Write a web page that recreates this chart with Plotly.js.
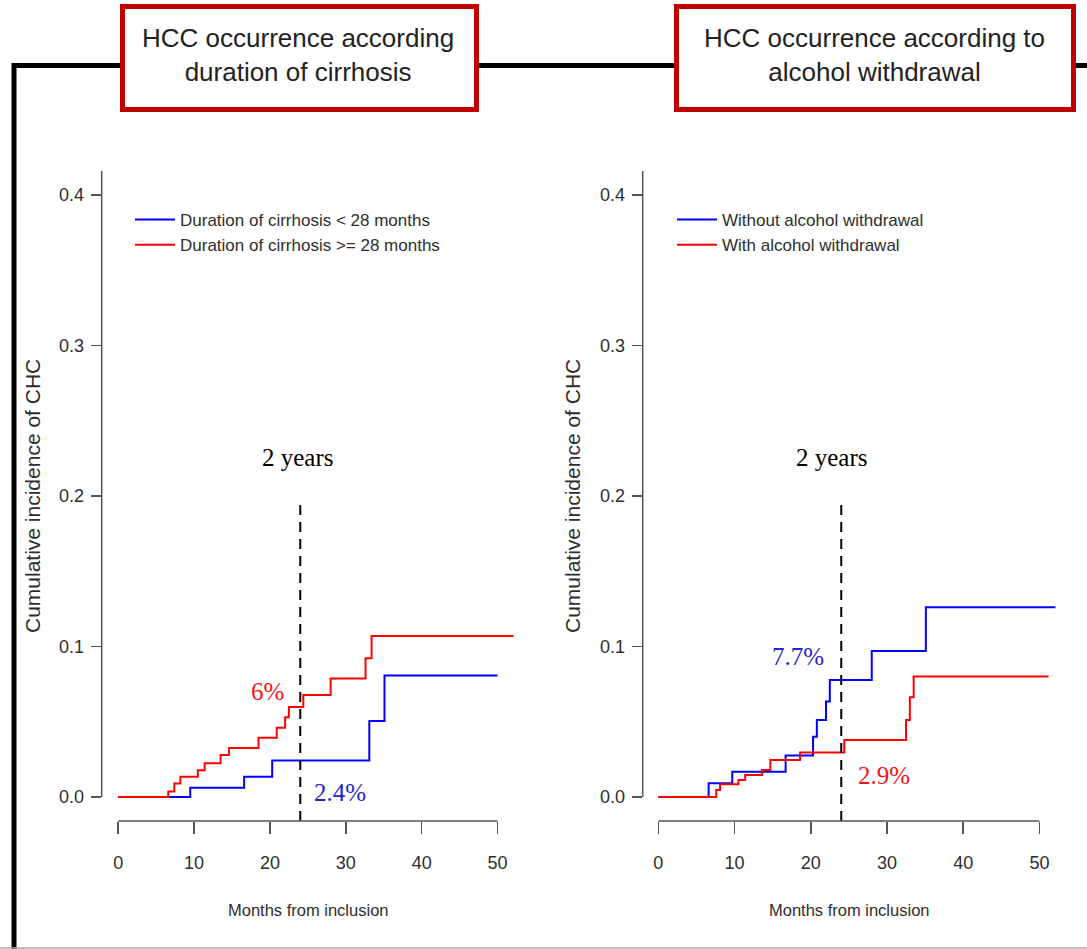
<!DOCTYPE html>
<html>
<head>
<meta charset="utf-8">
<script src="https://cdn.plot.ly/plotly-3.0.1.min.js"></script>
<style>html,body{margin:0;padding:0;background:#fff;}#chart{width:1087px;height:949px;}</style>
</head>
<body>
<div id="chart"></div>
<script>
// ---------- data ----------
// Left panel: duration of cirrhosis
var durShortName = 'Duration of cirrhosis < 28 months';
var durShortTimes = [0, 9.5, 16.6, 20.3, 33.1, 35.1, 50.0];
var durShortCI    = [0, 0.0062, 0.0135, 0.0243, 0.0505, 0.0808, 0.0808];
var durLongName = 'Duration of cirrhosis >= 28 months';
var durLongTimes = [0, 6.6, 7.4, 8.2, 10.5, 11.4, 13.5, 14.6, 18.5, 20.9, 22.0, 22.5, 24.4, 28.0, 32.6, 33.4, 52.1];
var durLongCI    = [0, 0.0036, 0.0089, 0.0135, 0.0178, 0.0225, 0.0279, 0.0326, 0.0393, 0.046, 0.053, 0.0598, 0.0678, 0.0787, 0.0922, 0.107, 0.107];
// Right panel: alcohol withdrawal
var noWdName = 'Without alcohol withdrawal';
var noWdTimes = [0, 6.6, 9.7, 16.7, 20.3, 20.8, 22.0, 22.5, 28.0, 35.1, 52.1];
var noWdCI    = [0, 0.0091, 0.0168, 0.0275, 0.0401, 0.0512, 0.0634, 0.0778, 0.0971, 0.1261, 0.1261];
var wdName = 'With alcohol withdrawal';
var wdTimes = [0, 7.6, 8.1, 10.5, 11.4, 13.6, 14.7, 18.6, 24.4, 32.5, 33.0, 33.5, 51.2];
var wdCI    = [0, 0.0047, 0.0084, 0.0113, 0.0146, 0.018, 0.0246, 0.0295, 0.0379, 0.0512, 0.0663, 0.080, 0.080];

var cutoffMonths = [24, 24];
var cutoffSpan = [-0.016, 0.194];
var cutoffLabel = '2 years';
var leftPctLabels = ['6%', '2.4%'];
var rightPctLabels = ['7.7%', '2.9%'];

var panelTitles = ['HCC occurrence according<br>duration of cirrhosis', 'HCC occurrence according to<br>alcohol withdrawal'];
var xTitle = 'Months from inclusion';
var yTitle = 'Cumulative incidence of CHC';
var xTicks = [0, 10, 20, 30, 40, 50];
var yTicks = [0, 0.1, 0.2, 0.3, 0.4];
var yTickText = ['0.0', '0.1', '0.2', '0.3', '0.4'];

// ---------- layout helpers ----------
var W = 1087, H = 949;
function xp(px) { return px / W; }
function yp(py) { return 1 - py / H; }

var SANS = 'Liberation Sans, Arial, sans-serif';
var SERIF = 'Liberation Serif, Times New Roman, serif';
var BLUE = '#0000ff', RED = '#ff0000';
var AX = '#555555', TXT = '#2e2e2e';
var yMin = -0.01595, yMax = 0.416;

function stepTrace(x, y, name, color, xa, ya, lg) {
  return {x: x, y: y, name: name, type: 'scatter', mode: 'lines',
    line: {shape: 'hv', color: color, width: 2}, xaxis: xa, yaxis: ya, legend: lg,
    hoverinfo: 'skip'};
}
function cutTrace(xa, ya) {
  return {x: cutoffMonths, y: cutoffSpan, type: 'scatter', mode: 'lines', showlegend: false,
    line: {color: '#000', width: 2, dash: '10px,7px'}, xaxis: xa, yaxis: ya, hoverinfo: 'skip'};
}

var data = [
  stepTrace(durShortTimes, durShortCI, durShortName, BLUE, 'x', 'y', 'legend'),
  stepTrace(durLongTimes, durLongCI, durLongName, RED, 'x', 'y', 'legend'),
  cutTrace('x', 'y'),
  stepTrace(noWdTimes, noWdCI, noWdName, BLUE, 'x2', 'y2', 'legend2'),
  stepTrace(wdTimes, wdCI, wdName, RED, 'x2', 'y2', 'legend2'),
  cutTrace('x2', 'y2')
];

function xAxis(domPx, range, anchor) {
  return {domain: [xp(domPx[0]), xp(domPx[1])], range: range, anchor: anchor,
    showgrid: false, zeroline: false, showline: false,
    tickmode: 'array', tickvals: xTicks, ticks: 'outside', ticklen: 12, tickwidth: 1.5, tickcolor: AX,
    ticklabelstandoff: 13,
    tickfont: {family: SANS, size: 18, color: TXT}, fixedrange: true};
}
function yAxis(anchor) {
  return {domain: [yp(821), yp(171)], range: [yMin, yMax], anchor: anchor,
    showgrid: false, zeroline: false, showline: false,
    tickmode: 'array', tickvals: yTicks, ticktext: yTickText, ticks: 'outside', ticklen: 10, tickwidth: 1.5, tickcolor: AX,
    ticklabelstandoff: 3,
    tickfont: {family: SANS, size: 18, color: TXT}, fixedrange: true};
}

function axisLines(xr, yr) {
  return [
    {type: 'line', xref: xr + ' domain', x0: 0, x1: 0, yref: yr, y0: 0, y1: yMax, line: {color: AX, width: 1.5}},
    {type: 'line', xref: xr, x0: xTicks[0], x1: xTicks[xTicks.length - 1], yref: yr + ' domain', y0: 0, y1: 0, line: {color: AX, width: 1.5}}
  ];
}

var shapes = [
  // outer black frame
  {type: 'rect', xref: 'paper', yref: 'paper', x0: xp(14), x1: xp(1100), y0: yp(65.5), y1: yp(970),
    line: {color: '#000', width: 5}, fillcolor: 'rgba(0,0,0,0)', layer: 'below'},
  {type: 'line', xref: 'paper', yref: 'paper', x0: 0, x1: 1, y0: yp(948), y1: yp(948), line: {color: '#aaaaaa', width: 1.5}}
].concat(axisLines('x', 'y'), axisLines('x2', 'y2'));

// red-bordered title box, with its text drawn on top of it
function titleBox(cx, wOuter) {
  return {text: ' ', xref: 'paper', yref: 'paper', x: xp(cx), y: yp(58), xanchor: 'center', yanchor: 'middle',
    showarrow: false, width: wOuter - 10, height: 98, borderwidth: 5, borderpad: 0,
    bordercolor: '#c00000', bgcolor: '#ffffff', font: {family: SANS, size: 10, color: '#fff'}};
}
function titleText(text, cx) {
  return {text: text, xref: 'paper', yref: 'paper', x: xp(cx), y: yp(55.5), xanchor: 'center', yanchor: 'middle',
    showarrow: false, align: 'center', font: {family: SANS, size: 26, color: '#222'}};
}
function txt(text, xr, x, yr, y, font, extra) {
  var a = {text: text, xref: xr, x: x, yref: yr, y: y, showarrow: false, xanchor: 'center', yanchor: 'middle', font: font};
  for (var k in extra) a[k] = extra[k];
  return a;
}
var serif = function (c) { return {family: SERIF, size: 25, color: c}; };
var axFont = {family: SANS, size: 16.5, color: TXT};
var yTitleFont = {family: SANS, size: 21, color: TXT};

var annotations = [
  titleBox(299.5, 359),
  titleBox(875, 402),
  titleText(panelTitles[0], 298.5),
  titleText(panelTitles[1], 874),
  txt(xTitle, 'x', 25, 'paper', yp(910), axFont),
  txt(xTitle, 'x2', 25, 'paper', yp(910), axFont),
  txt(yTitle, 'paper', xp(32), 'y', 0.2, yTitleFont, {textangle: -90}),
  txt(yTitle, 'paper', xp(572), 'y2', 0.2, yTitleFont, {textangle: -90}),
  txt(cutoffLabel, 'x', 23.75, 'y', 0.2253, serif('#000')),
  txt(cutoffLabel, 'x2', 22.8, 'y2', 0.2253, serif('#000')),
  txt(leftPctLabels[0], 'x', 19.7, 'y', 0.0704, serif('#f01414')),
  txt(leftPctLabels[1], 'x', 29.3, 'y', 0.0027, serif('#2525cc')),
  txt(rightPctLabels[0], 'x2', 18.33, 'y2', 0.0937, serif('#2525cc')),
  txt(rightPctLabels[1], 'x2', 29.6, 'y2', 0.014, serif('#f01414'))
];

function legendBox(xpx) {
  return {x: xp(xpx), y: yp(202), xanchor: 'left', yanchor: 'top', bgcolor: 'rgba(0,0,0,0)',
    borderwidth: 0, itemwidth: 40, tracegroupgap: 0, traceorder: 'normal',
    font: {family: SANS, size: 17, color: TXT}, itemclick: false, itemdoubleclick: false};
}

var layout = {
  width: W, height: H,
  margin: {l: 0, r: 0, t: 0, b: 0},
  paper_bgcolor: '#ffffff', plot_bgcolor: 'rgba(0,0,0,0)',
  showlegend: true,
  xaxis: xAxis([101.7, 520], [-2.17, 52.96], 'y'),
  yaxis: yAxis('x'),
  xaxis2: xAxis([642.7, 1060], [-2.05, 52.7], 'y2'),
  yaxis2: yAxis('x2'),
  legend: legendBox(130),
  legend2: legendBox(672),
  shapes: shapes,
  annotations: annotations
};

Plotly.newPlot('chart', data, layout, {displayModeBar: false, staticPlot: true});
</script>
</body>
</html>
